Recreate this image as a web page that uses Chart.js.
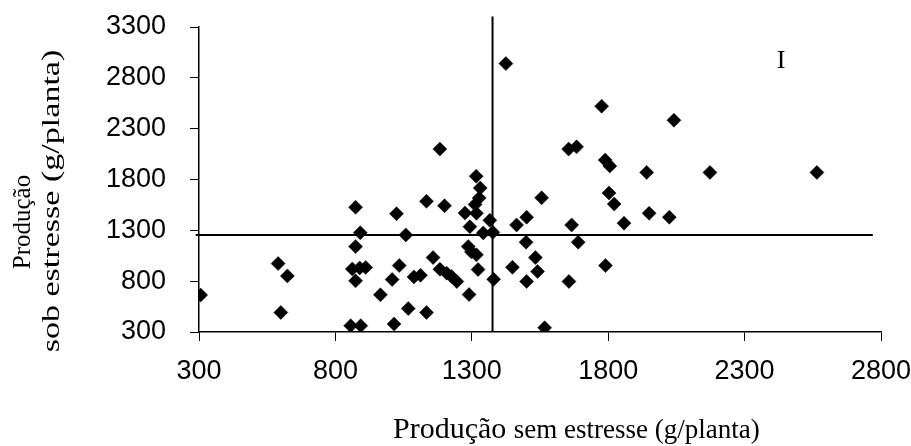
<!DOCTYPE html>
<html lang="pt">
<head>
    <meta charset="UTF-8" />
    <title>Produção sem e sob estresse</title>
    <style>
        body { margin: 0; background: #fff; }
        #wrap { width: 911px; height: 446px; }
    </style>
</head>
<body>
    <div id="wrap">
        <canvas id="scatterChart" width="911" height="446"></canvas>
    </div>

    <script src="https://cdn.jsdelivr.net/npm/chart.js@4.4.1/dist/chart.umd.min.js"></script>
    <script>
        // produção por genótipo (g/planta)
        const semEstresse = [
            306, 590, 624, 600, 874, 891, 874, 862, 889, 911,
            874, 856, 893, 965, 1008, 1034, 1024, 1058, 1015, 1067,
            1134, 1088, 1112, 1158, 1134, 1200, 1183, 1183, 1208, 1226,
            1245, 1290, 1275, 1293, 1287, 1299, 1317, 1323, 1316, 1331,
            1327, 1312, 1317, 1342, 1366, 1377, 1380, 1425, 1449, 1464,
            1501, 1499, 1533, 1541, 1501, 1556, 1567, 1655, 1684, 1666,
            1690, 1656, 1776, 1789, 1806, 1803, 1822, 1790, 1858, 1941,
            1950, 2041, 2024, 2173, 2565
        ];
        const sobEstresse = [
            663, 973, 852, 492, 1527, 1277, 1140, 920, 930, 935,
            803, 362, 362, 666, 816, 954, 1464, 1255, 378, 530,
            492, 842, 858, 1032, 1586, 1542, 2099, 918, 879, 845,
            797, 668, 1470, 1336, 1140, 1088, 1059, 914, 1832, 1716,
            1618, 1555, 1468, 1275, 1398, 1280, 818, 2940, 936, 1353,
            1429, 1183, 1032, 895, 797, 1620, 342, 2099, 2121, 1353,
            1183, 797, 2521, 1991, 1932, 1667, 1559, 953, 1370, 1870,
            1468, 2383, 1429, 1870, 1870
        ];

        // linhas das médias
        const mediaSem = 1376;
        const mediaSob = 1255;
        const linhaVertical = [300, 3404];   // y inicial e final
        const linhaHorizontal = [288, 2770]; // x inicial e final

        const xTicks = [300, 800, 1300, 1800, 2300, 2800];
        const yTicks = [300, 800, 1300, 1800, 2300, 2800, 3300];

        const xTitle = ['Produção', 'sem estresse (g/planta)'];
        const yTitle = ['Produção', 'sob estresse (g/planta)'];
        const quadrante = { text: 'I', x: 2434, y: 2967 };

        const pontos = semEstresse.map((v, i) => ({ x: v, y: sobEstresse[i] }));

        // titulos dos eixos e rotulo do quadrante
        const textos = {
            id: 'textos',
            afterDraw(chart) {
                const ctx = chart.ctx;
                const sx = chart.scales.x, sy = chart.scales.y;
                ctx.save();
                ctx.fillStyle = '#000';

                // eixo x: "Produção" maior que o resto
                ctx.textAlign = 'left';
                ctx.textBaseline = 'alphabetic';
                ctx.font = '30px "Liberation Serif"';
                ctx.fillText(xTitle[0], 393, 438);
                const w = ctx.measureText(xTitle[0] + ' ').width;
                ctx.font = '27px "Liberation Serif"';
                ctx.fillText(xTitle[1], 393 + w, 438);

                // eixo y, duas linhas giradas (a segunda esticada no comprimento)
                ctx.textAlign = 'center';
                ctx.save();
                ctx.translate(30, 222);
                ctx.rotate(-Math.PI / 2);
                ctx.font = '25px "Liberation Serif"';
                ctx.fillText(yTitle[0], 0, 0);
                ctx.restore();
                ctx.save();
                ctx.translate(59, 201);
                ctx.rotate(-Math.PI / 2);
                ctx.scale(1.31, 1);
                ctx.font = '26px "Liberation Serif"';
                ctx.fillText(yTitle[1], 0, 0);
                ctx.restore();

                ctx.textBaseline = 'middle';
                ctx.font = '26px "Liberation Serif"';
                ctx.fillText(quadrante.text, sx.getPixelForValue(quadrante.x), sy.getPixelForValue(quadrante.y));
                ctx.restore();
            }
        };

        new Chart(document.getElementById('scatterChart'), {
            type: 'scatter',
            data: {
                datasets: [
                    {
                        data: pontos,
                        pointStyle: 'rectRot',
                        pointRadius: 7,
                        pointHoverRadius: 7,
                        backgroundColor: '#000',
                        borderColor: '#000',
                        borderWidth: 0.5
                    },
                    {
                        data: linhaVertical.map(v => ({ x: mediaSem, y: v })),
                        showLine: true,
                        pointRadius: 0,
                        borderColor: '#000',
                        borderWidth: 2,
                        clip: false
                    },
                    {
                        data: linhaHorizontal.map(v => ({ x: v, y: mediaSob })),
                        showLine: true,
                        pointRadius: 0,
                        borderColor: '#000',
                        borderWidth: 2,
                        clip: false
                    }
                ]
            },
            options: {
                responsive: false,
                animation: false,
                events: [],
                layout: { padding: { top: 27, right: 30, left: 0, bottom: 0 } },
                plugins: {
                    legend: { display: false },
                    tooltip: { enabled: false }
                },
                scales: {
                    x: {
                        type: 'linear',
                        min: 300,
                        max: 2800,
                        afterBuildTicks: s => { s.ticks = xTicks.map(v => ({ value: v })); },
                        afterFit: s => {
                            s.height = 114;
                            s.paddingLeft = 0;
                            s.paddingRight = 0;
                        },
                        grid: { drawOnChartArea: false, tickLength: 9, color: '#000', lineWidth: 1 },
                        border: { color: '#000', width: 1.5 },
                        ticks: {
                            padding: 14,
                            color: '#000',
                            maxRotation: 0,
                            callback: v => String(v),
                            font: { family: '"Liberation Sans", Arial', size: 27 }
                        }
                    },
                    y: {
                        type: 'linear',
                        min: 300,
                        max: 3300,
                        afterBuildTicks: s => { s.ticks = yTicks.map(v => ({ value: v })); },
                        afterFit: s => {
                            s.width = 199;
                            s.paddingTop = 0;
                            s.paddingBottom = 0;
                        },
                        grid: { drawOnChartArea: false, tickLength: 9, color: '#000', lineWidth: 1 },
                        border: { color: '#000', width: 1.5 },
                        ticks: {
                            padding: 24,
                            color: '#000',
                            callback: v => String(v),
                            font: { family: '"Liberation Sans", Arial', size: 27 }
                        }
                    }
                }
            },
            plugins: [textos]
        });
    </script>
</body>
</html>
